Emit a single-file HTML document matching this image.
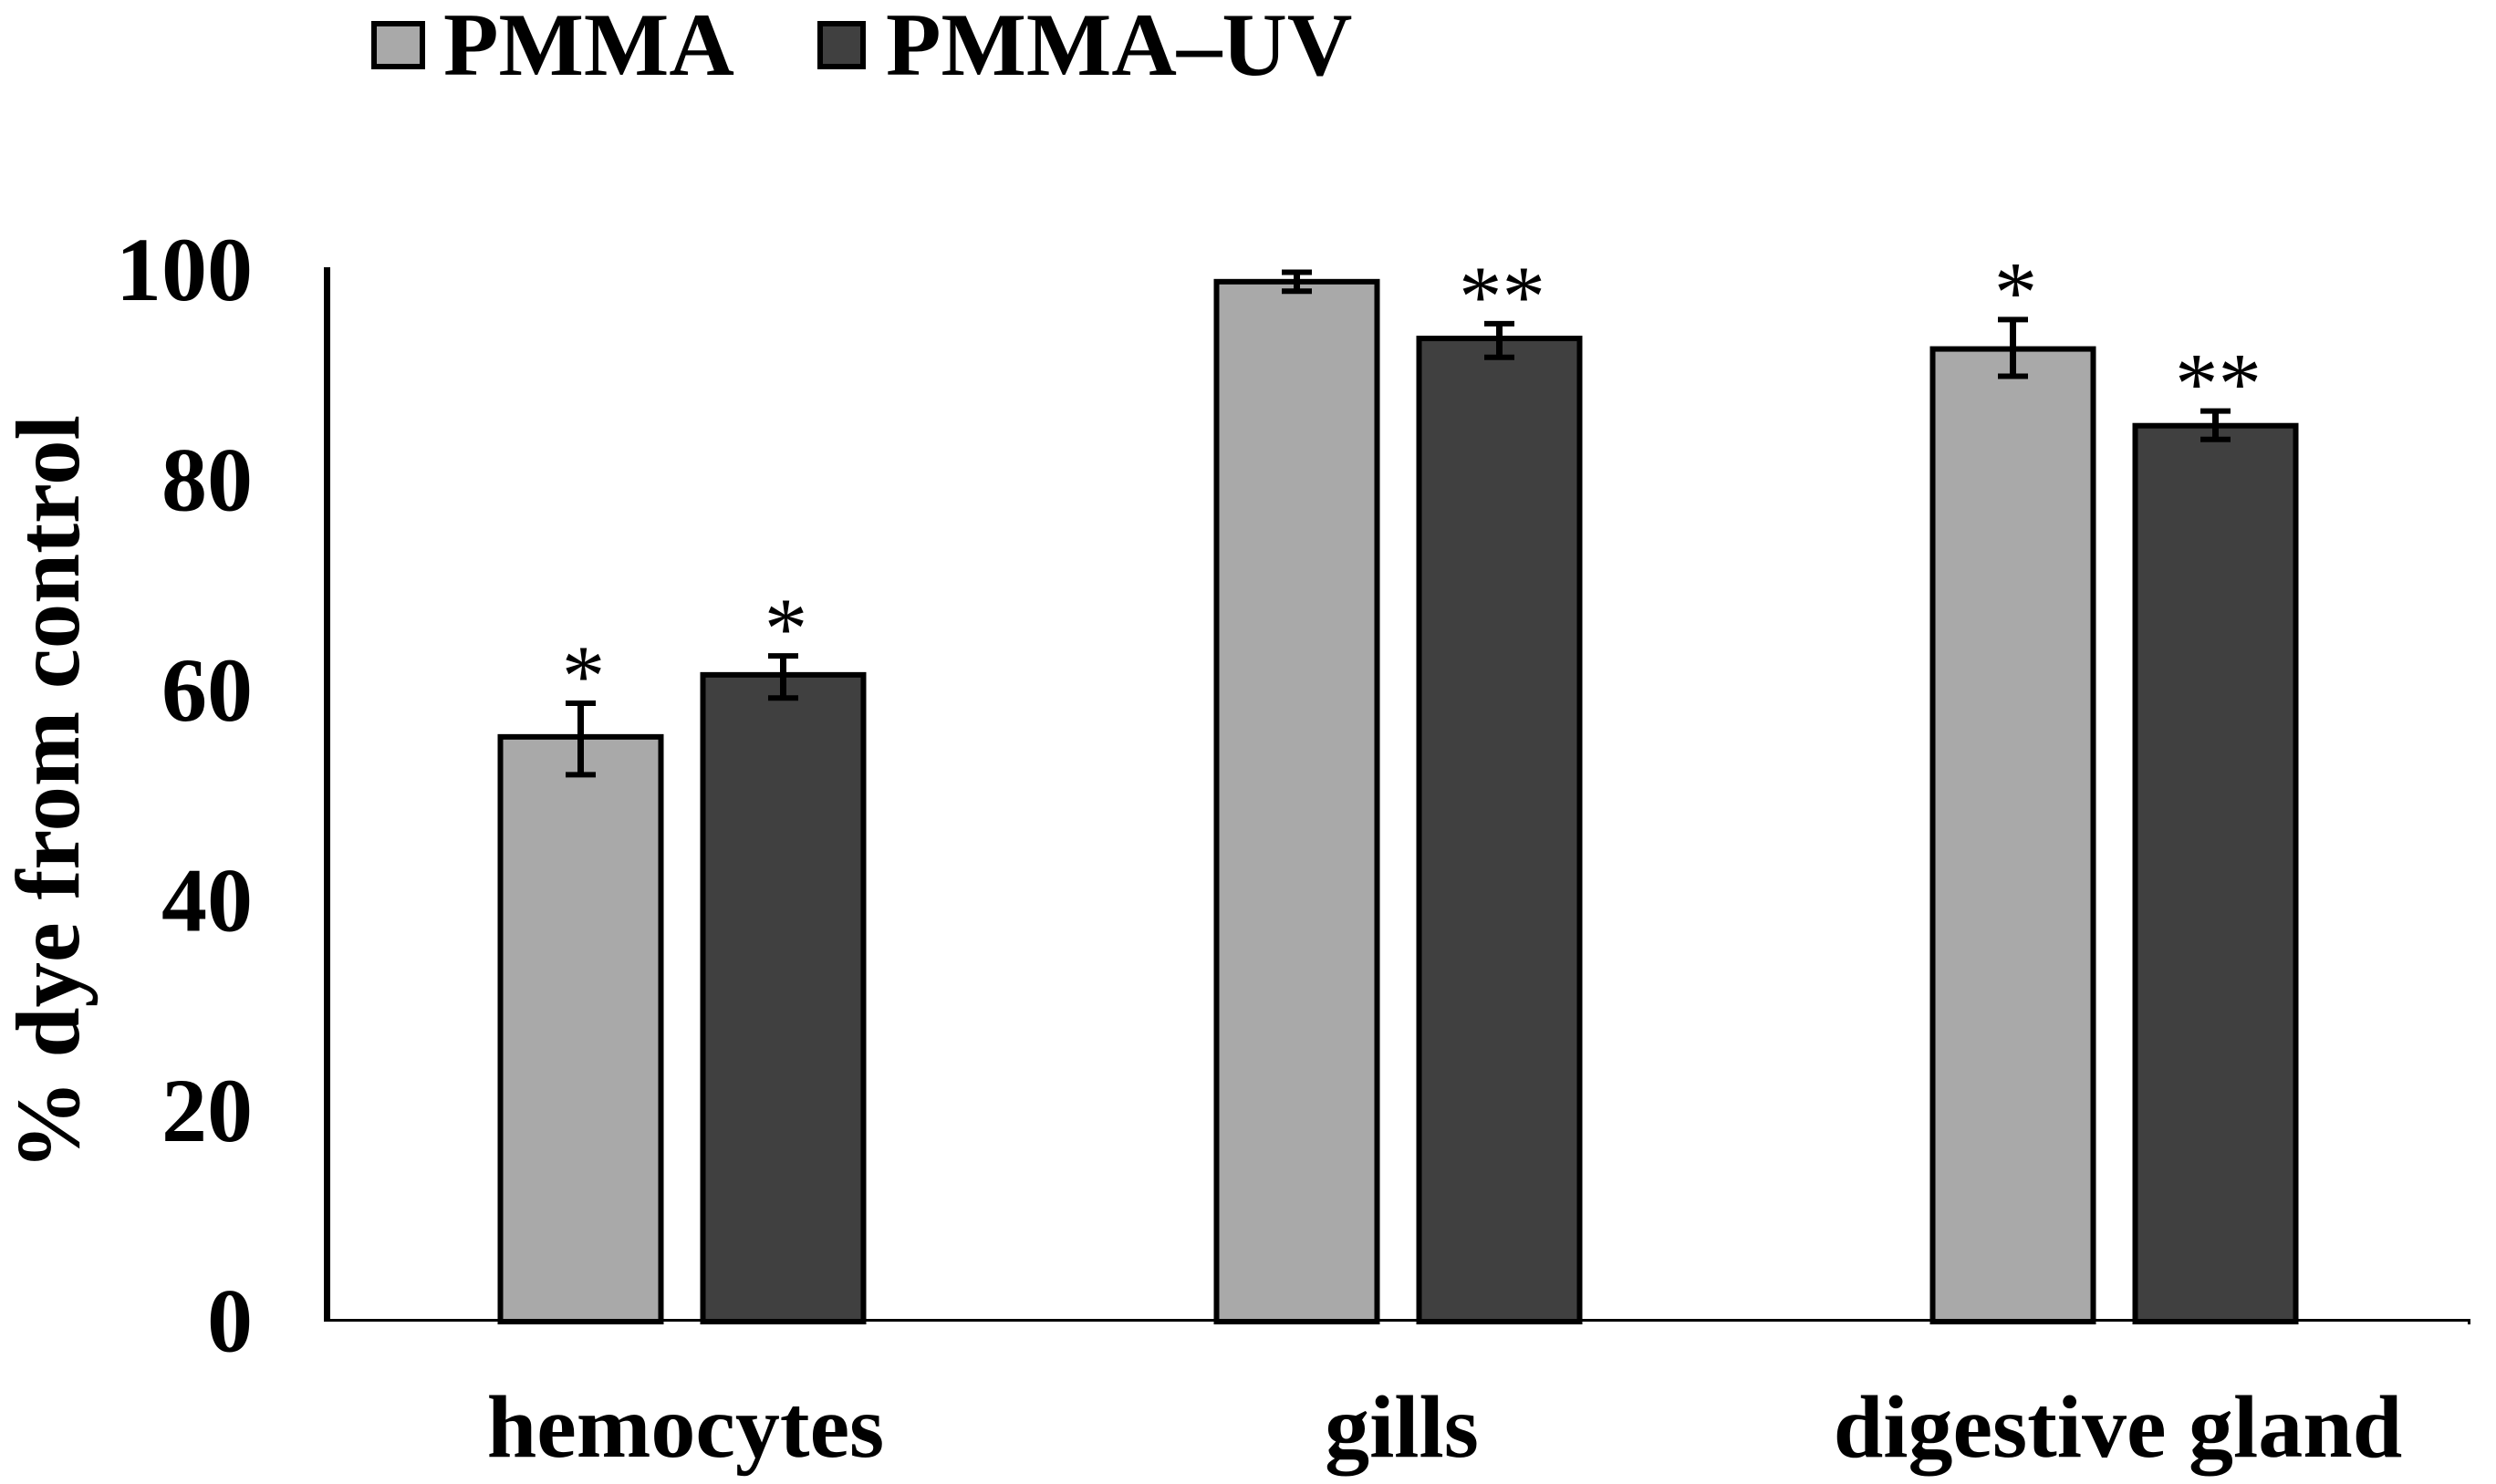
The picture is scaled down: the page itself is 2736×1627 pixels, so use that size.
<!DOCTYPE html>
<html lang="en">
<head>
<meta charset="utf-8">
<title>% dye from control</title>
<style>
  html, body { margin: 0; padding: 0; background: #fff; }
  svg { display: block; }
  text { font-family: "Liberation Serif", serif; font-weight: 700; fill: #000; }
  .star { font-weight: 400; }
</style>
</head>
<body>
<svg id="chart" xmlns="http://www.w3.org/2000/svg" width="2736" height="1627" viewBox="0 0 2736 1627">
  <rect x="0" y="0" width="2736" height="1627" fill="#fff"></rect>
  <g>
    <g>
      <rect x="410" y="26" width="53" height="47" fill="#a9a9a9" stroke="#000" stroke-width="6"></rect>
      <text x="486" y="82" font-size="99">PMMA</text>
    </g>
    <g>
      <rect x="899" y="26" width="47" height="47" fill="#404040" stroke="#000" stroke-width="6"></rect>
      <text x="971" y="82" font-size="99">PMMA–UV</text>
    </g>
  </g>
  <text transform="translate(86 1283) rotate(-90)" x="0" y="0" font-size="100" textLength="828" lengthAdjust="spacingAndGlyphs">% dye from control</text>
  <g id="y-ticks"></g>
  <g id="bars"></g>
  <g id="axes">
    <rect x="355" y="293" width="7" height="1156" fill="#000"></rect>
    <rect x="355" y="1446" width="2353" height="3" fill="#000"></rect>
    <rect x="2705" y="1446" width="3" height="6" fill="#000"></rect>
  </g>
  <g id="errors"></g>
  <g id="stars"></g>
  <g id="x-labels"></g>
</svg>
<script>
const categories = ["hemocytes", "gills", "digestive gland"];
const seriesNames = ["PMMA", "PMMA-UV"];
const pmmaValues = [55.5, 98.8, 92.4];
const pmmaUvValues = [61.4, 93.4, 85.1];
const pmmaErrHigh = [58.7, 99.7, 95.2];
const pmmaErrLow = [51.9, 97.9, 89.8];
const pmmaUvErrHigh = [63.2, 94.8, 86.5];
const pmmaUvErrLow = [59.2, 91.6, 83.8];
const pmmaStars = ["*", "", "*"];
const pmmaUvStars = ["*", "**", "**"];
const yTicks = [0, 20, 40, 60, 80, 100];

const SVG_NS = "http://www.w3.org/2000/svg";
const fills = ["#a9a9a9", "#404040"];

function yScale(v) { return 1447.5 - v * 11.525; }
function groupCenter(i) { return 747.5 + i * 785; }
function barCenter(i, s) { return groupCenter(i) + (s === 0 ? -111 : 111); }

function make(tag, attrs, parent) {
  const el = document.createElementNS(SVG_NS, tag);
  for (const k in attrs) el.setAttribute(k, attrs[k]);
  parent.appendChild(el);
  return el;
}

const yTickGroup = document.getElementById("y-ticks");
yTicks.forEach(function (t) {
  const el = make("text", { x: 277, y: yScale(t) + 34, "font-size": 100, "text-anchor": "end" }, yTickGroup);
  
  
  el.textContent = t;
});

const barGroup = document.getElementById("bars");
const errGroup = document.getElementById("errors");
const starGroup = document.getElementById("stars");
const seriesValues = [pmmaValues, pmmaUvValues];
const seriesHigh = [pmmaErrHigh, pmmaUvErrHigh];
const seriesLow = [pmmaErrLow, pmmaUvErrLow];
const seriesStars = [pmmaStars, pmmaUvStars];
const barWidth = 176;
const capWidth = 33;

categories.forEach(function (cat, i) {
  seriesNames.forEach(function (name, s) {
    const cx = barCenter(i, s);
    const top = yScale(seriesValues[s][i]);
    const bar = make("rect", {
      x: cx - barWidth / 2, y: top, width: barWidth, height: yScale(0) + 1.5 - top,
      fill: fills[s], stroke: "#000", "stroke-width": 6
    }, barGroup);
    
    

    const hi = yScale(seriesHigh[s][i]);
    const lo = yScale(seriesLow[s][i]);
    const stem = make("line", { x1: cx, x2: cx, y1: hi, y2: lo, stroke: "#000", "stroke-width": 7 }, errGroup);
    
    
    const capTop = make("line", { x1: cx - capWidth / 2, x2: cx + capWidth / 2, y1: hi, y2: hi, stroke: "#000", "stroke-width": 6 }, errGroup);
    
    
    const capBottom = make("line", { x1: cx - capWidth / 2, x2: cx + capWidth / 2, y1: lo, y2: lo, stroke: "#000", "stroke-width": 6 }, errGroup);
    
    

    const mark = seriesStars[s][i];
    if (mark) {
      const star = make("text", { x: cx + 3, y: hi + 2, "font-size": 95, "text-anchor": "middle", "class": "star" }, starGroup);
      
      
      star.textContent = mark;
    }
  });

  const label = make("text", { x: groupCenter(i) + 4, y: 1597, "font-size": 98, "text-anchor": "middle" }, document.getElementById("x-labels"));
  
  
  label.textContent = cat;
});
</script>
</body>
</html>
